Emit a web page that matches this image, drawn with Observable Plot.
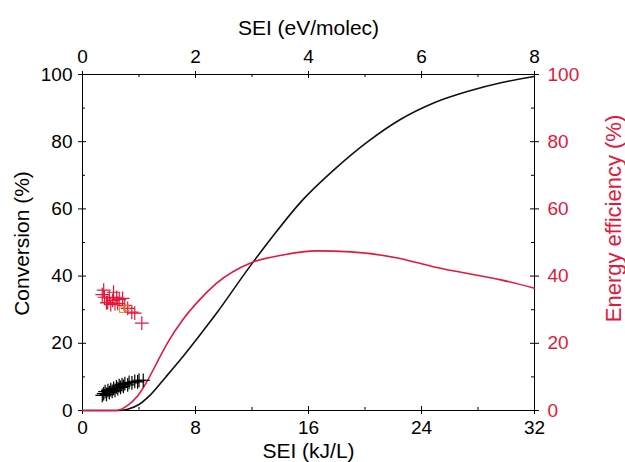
<!DOCTYPE html>
<html>
<head>
<meta charset="utf-8">
<script src="https://cdn.jsdelivr.net/npm/d3@7"></script>
<script src="https://cdn.jsdelivr.net/npm/@observablehq/plot@0.6"></script>
<style>
  html, body { margin: 0; padding: 0; background: #fff; }
  #chart svg { display: block; }
</style>
</head>
<body>
<div id="chart"></div>
<script>
// Model curves (SEI in kJ/L)
const convX = [0, 2.5, 3.2, 4.0, 4.77, 5.9, 7.1, 8.3, 9.5, 11.7, 13.5, 15.4, 17.8, 20.2, 22.5, 24.9, 27.3, 29.7, 32];
const convY = [0, 0, 0.4, 1.8, 4.5, 10, 16, 22.4, 29, 42, 52, 61.8, 71.6, 80, 86.6, 91.6, 95, 97.6, 99.4];
const effX = [0, 2.4, 3.2, 3.9, 4.6, 5.3, 6.0, 7.1, 8.3, 9.5, 11.9, 14.2, 16.6, 19, 22.3, 24.9, 29.7, 32];
const effY = [0, 0, 1.5, 4.3, 8.9, 14.5, 20, 27, 33, 37.9, 43.9, 46.3, 47.5, 47.2, 45.4, 42.7, 38.8, 36.4];

// Experimental points
const expConvX = [1.4, 1.5, 1.6, 1.7, 1.8, 1.9, 2.0, 2.1, 2.2, 2.3, 2.4, 2.5, 2.6, 2.7, 2.8, 2.9, 3.0, 3.2, 3.3, 3.5, 3.7, 3.9, 4.0, 4.3];
const expConvY = [4.5, 5.0, 5.6, 4.8, 5.9, 5.3, 6.2, 5.7, 6.6, 6.0, 7.0, 6.5, 7.4, 6.9, 7.7, 7.2, 8.0, 7.6, 8.4, 8.2, 8.7, 8.5, 9.0, 9.0];
const expEffX = [1.4, 1.5, 1.56, 1.7, 1.78, 1.9, 2.0, 2.13, 2.2, 2.3, 2.42, 2.49, 2.6, 2.84, 2.99, 3.2, 3.49, 3.7, 4.2];
const expEffY = [34.5, 35.8, 33.7, 32.0, 32.2, 33.5, 31.5, 32.8, 35.2, 31.8, 33.7, 31.9, 33.0, 33.4, 31.3, 30.4, 29.3, 29.0, 26.0];
const sqX = [2.8, 3.1];
const sqY = [30.0, 30.5];

// Ticks
const xMajor = [0, 8, 16, 24, 32];
const xMinor = [4, 12, 20, 28];
const topLabels = ["0", "2", "4", "6", "8"];
const yMajor = [0, 20, 40, 60, 80, 100];
const yMinor = [10, 30, 50, 70, 90];

const RED = "#e5173c";

const conv = convX.map((x, i) => ({x, y: convY[i]}));
const eff = effX.map((x, i) => ({x, y: effY[i]}));
const expConv = expConvX.map((x, i) => ({x, y: expConvY[i]}));
const expEff = expEffX.map((x, i) => ({x, y: expEffY[i]}));
const sq = sqX.map((x, i) => ({x, y: sqY[i]}));

const W = 625, H = 462, ML = 82, MR = 91, MT = 74, MB = 52;
const FW = W - ML - MR, FH = H - MT - MB;

// inward tick marks, drawn with tickX/tickY spanning the frame and inset to a short length
function inX(data, side, len) {
  const o = {x: d => d, stroke: "#000", strokeWidth: 1};
  if (side === "bottom") o.insetTop = FH - len; else o.insetBottom = FH - len;
  return Plot.tickX(data, o);
}
function inY(data, side, len) {
  const o = {y: d => d, stroke: "#000", strokeWidth: 1};
  if (side === "left") o.insetRight = FW - len; else o.insetLeft = FW - len;
  return Plot.tickY(data, o);
}

const chart = Plot.plot({
  width: W,
  height: H,
  marginLeft: ML,
  marginRight: MR,
  marginTop: MT,
  marginBottom: MB,
  style: {fontFamily: "'Liberation Sans', Arial, sans-serif", fontSize: "19px", background: "#fff"},
  x: {domain: [0, 32], axis: null},
  y: {domain: [0, 100], axis: null},
  marks: [
    Plot.frame({stroke: "#000"}),
    // bottom axis
    Plot.axisX({anchor: "bottom", ticks: xMajor, tickSize: 4, tickPadding: 6, tickFormat: d => String(d), label: null, fontSize: 19}),
    inX(xMajor, "bottom", 4),
    inX(xMinor, "bottom", 3),
    // top axis
    Plot.axisX({anchor: "top", ticks: xMajor, tickSize: 4, tickPadding: 8, tickFormat: (d, i) => topLabels[i], label: null, fontSize: 19}),
    inX(xMajor, "top", 4),
    inX(xMinor, "top", 3),
    // left axis
    Plot.axisY({anchor: "left", ticks: yMajor, tickSize: 4, tickPadding: 6, tickFormat: d => String(d), label: null, fontSize: 19}),
    inY(yMajor, "left", 4),
    inY(yMinor, "left", 3),
    // right axis
    Plot.axisY({anchor: "right", ticks: yMajor, tickSize: 4, tickPadding: 9, stroke: "#000", fill: RED, tickFormat: d => String(d), label: null, fontSize: 19}),
    inY(yMajor, "right", 4),
    inY(yMinor, "right", 3),
    // curves
    Plot.line(conv, {x: "x", y: "y", curve: "monotone-x", stroke: "#111", strokeWidth: 1.6}),
    Plot.line(eff, {x: "x", y: "y", curve: "monotone-x", stroke: RED, strokeWidth: 1.6}),
    // experimental points
    Plot.dot(expConv, {x: "x", y: "y", symbol: "plus", r: 4.5, stroke: "#000", strokeWidth: 1.2}),
    Plot.dot(expEff, {x: "x", y: "y", symbol: "plus", r: 4.5, stroke: RED, strokeWidth: 1.2}),
    Plot.dot(sq, {x: "x", y: "y", symbol: "square", r: 3, stroke: "#d9822b", fill: "none", strokeWidth: 1}),
    // titles
    Plot.text(["SEI (eV/molec)"], {frameAnchor: "top", lineAnchor: "middle", dy: -46, fontSize: 21, fill: "#000"}),
    Plot.text(["SEI (kJ/L)"], {frameAnchor: "bottom", lineAnchor: "middle", dy: 41, fontSize: 21, fill: "#000"}),
    Plot.text(["Conversion (%)"], {frameAnchor: "left", textAnchor: "middle", lineAnchor: "middle", dx: -60, dy: 1, rotate: -90, fontSize: 21, fill: "#000"}),
    Plot.text(["Energy efficiency (%)"], {frameAnchor: "right", textAnchor: "middle", lineAnchor: "middle", dx: 79, dy: -24, rotate: -90, fontSize: 22, fill: RED})
  ]
});
document.getElementById("chart").appendChild(chart);
</script>
</body>
</html>
